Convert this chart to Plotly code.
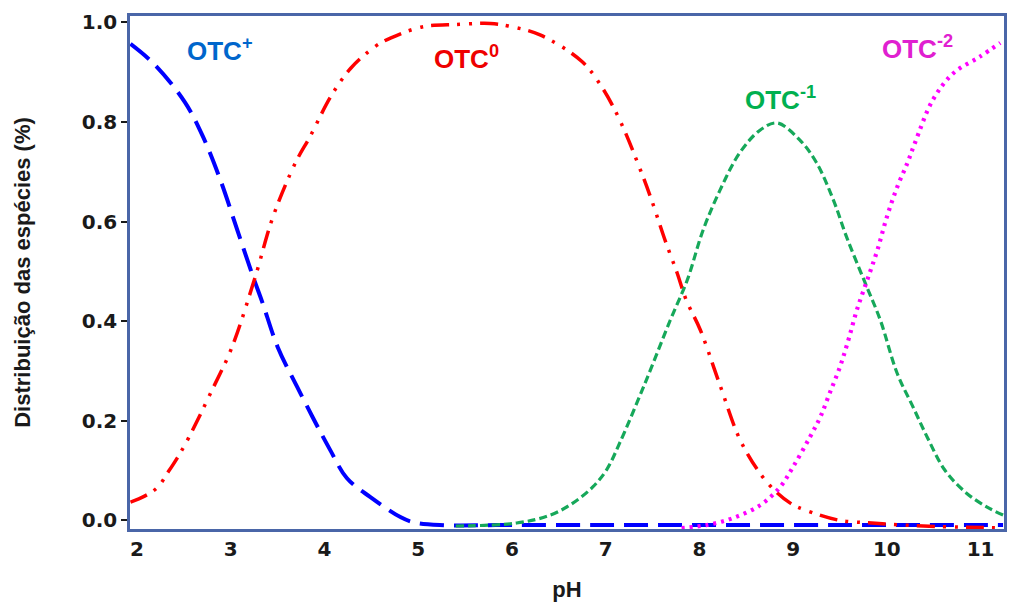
import plotly.graph_objects as go

# Speciation of oxytetracycline (OTC) as a function of pH
otc_plus_ph = [1.93, 2.19, 2.51, 2.70, 2.89, 3.08, 3.24, 3.34, 3.50, 3.71, 4.06, 4.24,
               4.49, 4.81, 4.94, 5.23, 6.0, 7.0, 8.0, 9.0, 10.0, 11.24]
otc_plus = [0.957, 0.915, 0.840, 0.772, 0.683, 0.577, 0.488, 0.436, 0.348, 0.267, 0.141, 0.084,
            0.046, 0.006, -0.004, -0.010, -0.010, -0.010, -0.010, -0.010, -0.010, -0.010]

otc_zero_ph = [1.93, 2.08, 2.22, 2.33, 2.43, 2.55, 2.80, 3.01, 3.26, 3.45, 3.69, 3.85, 4.07, 4.28,
               4.55, 4.71, 5.04, 5.41, 5.77, 5.96, 6.30, 6.75, 6.96, 7.15, 7.37, 7.49, 7.64, 7.76,
               7.86, 8.01, 8.22, 8.45, 8.73, 8.97, 9.13, 9.48, 9.84, 10.39, 11.25]
otc_zero = [0.036, 0.048, 0.066, 0.096, 0.125, 0.165, 0.261, 0.346, 0.488, 0.609, 0.718, 0.772, 0.852,
            0.908, 0.953, 0.969, 0.991, 0.996, 0.998, 0.993, 0.975, 0.921, 0.870, 0.804, 0.704, 0.643,
            0.559, 0.498, 0.442, 0.382, 0.271, 0.155, 0.074, 0.034, 0.020, 0.000, -0.006, -0.012, -0.016]

otc_minus1_ph = [5.40, 6.05, 6.41, 6.65, 6.86, 7.01, 7.15, 7.42, 7.69, 7.87, 8.04, 8.22, 8.43,
                 8.65, 8.83, 9.07, 9.25, 9.43, 9.57, 9.77, 9.93, 10.11, 10.28, 10.43, 10.62,
                 10.85, 11.07, 11.24]
otc_minus1 = [-0.012, -0.006, 0.010, 0.034, 0.066, 0.101, 0.155, 0.275, 0.402, 0.482, 0.583, 0.663, 0.738,
              0.784, 0.798, 0.764, 0.718, 0.643, 0.569, 0.476, 0.402, 0.295, 0.227, 0.167, 0.100,
              0.054, 0.026, 0.010]

otc_minus2_ph = [7.81, 8.08, 8.36, 8.65, 8.86, 9.00, 9.18, 9.29, 9.39, 9.50, 9.59, 9.68, 9.79,
                 9.90, 10.00, 10.11, 10.22, 10.30, 10.49, 10.71, 10.99, 11.21]
otc_minus2 = [-0.016, -0.010, 0.004, 0.030, 0.066, 0.107, 0.167, 0.207, 0.255, 0.308, 0.362, 0.422, 0.482,
              0.543, 0.609, 0.669, 0.718, 0.758, 0.844, 0.898, 0.931, 0.959]

x_ticks = [2, 3, 4, 5, 6, 7, 8, 9, 10, 11]
y_ticks = [0.0, 0.2, 0.4, 0.6, 0.8, 1.0]

LABEL_FONT = "Liberation Sans"
AXIS_FONT = "DejaVu Sans"

fig = go.Figure()
series = [
    (otc_plus_ph, otc_plus, "#0000FF", 4.0, "24px,10px"),
    (otc_zero_ph, otc_zero, "#FF0000", 3.5, "18px,8px,3px,9px,3px,8px"),
    (otc_minus1_ph, otc_minus1, "#16A85A", 3.2, "8px,4px"),
    (otc_minus2_ph, otc_minus2, "#FF00FF", 4.2, "3px,5px"),
]
for xs, ys, color, width, dash in series:
    fig.add_trace(go.Scatter(
        x=xs, y=ys, mode="lines", line_shape="spline",
        line=dict(color=color, width=width, dash=dash),
        showlegend=False, hoverinfo="skip",
    ))

labels = [
    (2.885, 0.945, "OTC<sup>+</sup>", "#0066CC"),
    (5.52, 0.929, "OTC<sup>0</sup>", "#EE0000"),
    (8.87, 0.848, "OTC<sup>-1</sup>", "#00B050"),
    (10.33, 0.949, "OTC<sup>-2</sup>", "#E020D0"),
]
for x, y, text, color in labels:
    fig.add_annotation(x=x, y=y, text=text, showarrow=False, xanchor="center", yanchor="middle",
                       font=dict(family=LABEL_FONT, size=26, color=color, weight="bold"))

frame = "#4A66A8"
fig.update_layout(
    width=1013, height=603,
    margin=dict(l=130, r=9, t=16, b=74),
    paper_bgcolor="white", plot_bgcolor="white",
    font=dict(family=AXIS_FONT, color="#1a1a1a"),
    xaxis=dict(
        range=[1.925, 11.25], tickvals=x_ticks, ticktext=[str(v) for v in x_ticks],
        showgrid=False, zeroline=False, showline=True, linecolor=frame, linewidth=2.5,
        mirror=True, ticks="", tickfont=dict(size=20, weight="bold"), automargin=False,
        title=dict(text="pH", font=dict(family=LABEL_FONT, size=22, weight="bold"), standoff=22),
    ),
    yaxis=dict(
        range=[-0.018, 1.013], tickvals=y_ticks, ticktext=[f"{v:.1f}" for v in y_ticks],
        showgrid=False, zeroline=False, showline=True, linecolor=frame, linewidth=2.5,
        mirror=True, ticks="outside", ticklen=6, tickwidth=2, tickcolor="#1a1a1a",
        tickfont=dict(size=20, weight="bold"), automargin=False,
        title=dict(text="Distribuição das espécies (%)",
                   font=dict(family=LABEL_FONT, size=22, weight="bold"), standoff=46),
    ),
)

fig.write_html("out.html")
